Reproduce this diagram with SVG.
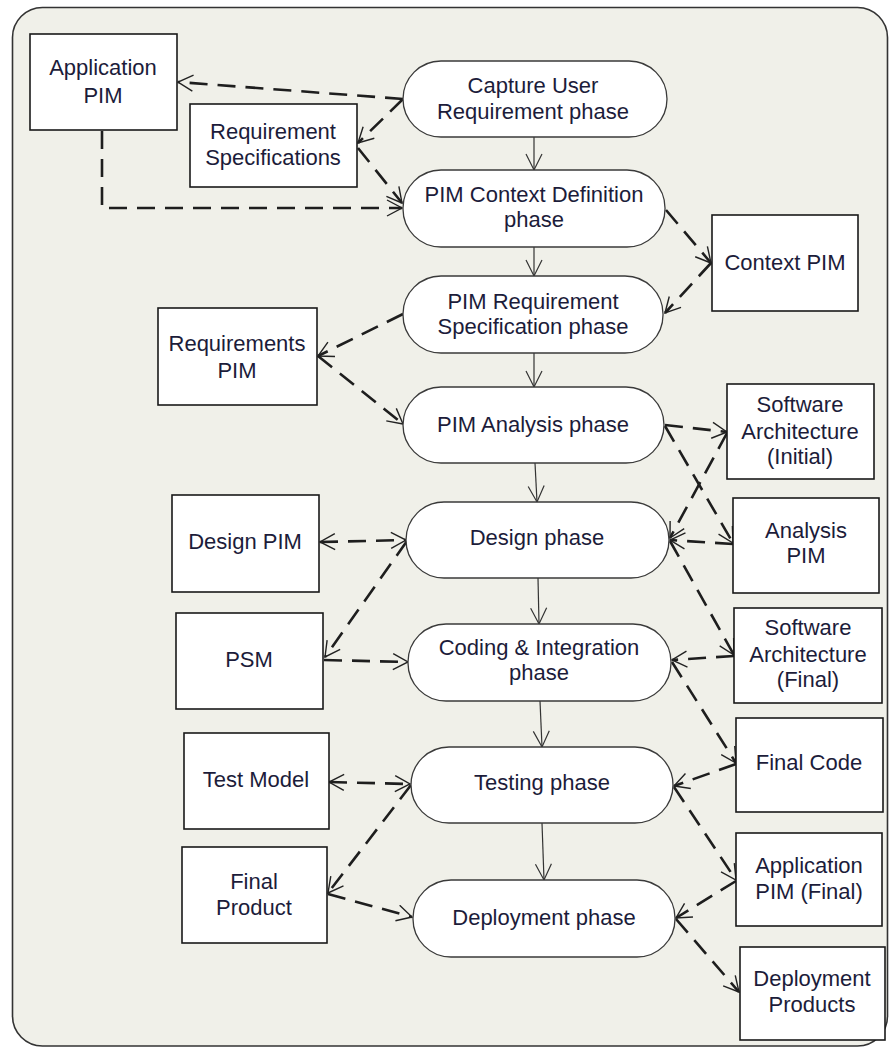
<svg xmlns="http://www.w3.org/2000/svg" width="890" height="1048" viewBox="0 0 890 1048">
<defs>
<style>
.frame{fill:#f0f0e9;stroke:#333;stroke-width:1.6}
.ph{fill:#fff;stroke:#3a3a3a;stroke-width:1.3}
.bx{fill:#fff;stroke:#1a1a1a;stroke-width:1.6}
.t{font-family:"Liberation Sans",Arial,sans-serif;font-size:22px;fill:#1c1c3a;text-anchor:middle}
.flow{fill:none;stroke:#333;stroke-width:1.2;marker-end:url(#fa)}
.dash{fill:none;stroke:#1e1e1e;stroke-width:2.6;stroke-dasharray:18 10}
.ae{marker-end:url(#da)}
.as{marker-start:url(#dsa)}
</style>
<marker id="fa" viewBox="-17 -9 19 18" refX="0" refY="0" markerWidth="19" markerHeight="18" markerUnits="userSpaceOnUse" orient="auto">
<path d="M-16 -8 L0 0 L-16 8" fill="none" stroke="#333" stroke-width="1.2"/>
</marker>
<marker id="da" viewBox="-17 -9 19 18" refX="0" refY="0" markerWidth="19" markerHeight="18" markerUnits="userSpaceOnUse" orient="auto">
<path d="M-15 -8 L0 0 L-15 8" fill="none" stroke="#222" stroke-width="1.4" stroke-dasharray="none"/>
</marker>
<marker id="dsa" viewBox="-2 -9 19 18" refX="0" refY="0" markerWidth="19" markerHeight="18" markerUnits="userSpaceOnUse" orient="auto">
<path d="M15 -8 L0 0 L15 8" fill="none" stroke="#222" stroke-width="1.4" stroke-dasharray="none"/>
</marker>
</defs>
<rect class="frame" x="12.5" y="7.5" width="875" height="1038.5" rx="30"/>

<g id="connectors">
<line class="flow" x1="534" y1="137" x2="534" y2="170"/>
<line class="flow" x1="534" y1="247" x2="534" y2="276"/>
<line class="flow" x1="534" y1="353" x2="534" y2="387"/>
<line class="flow" x1="535" y1="463" x2="537" y2="502"/>
<line class="flow" x1="538" y1="578" x2="539" y2="624"/>
<line class="flow" x1="540" y1="701" x2="542" y2="747"/>
<line class="flow" x1="542" y1="823" x2="544" y2="880"/>

<line class="dash ae" x1="403" y1="99" x2="178" y2="82"/>
<line class="dash ae" x1="403" y1="99" x2="358" y2="143"/>
<line class="dash ae" x1="358" y1="148" x2="402" y2="203"/>
<polyline class="dash ae" points="102,131 102,208 402,208"/>
<line class="dash ae" x1="666" y1="210" x2="711" y2="263"/>
<line class="dash ae" x1="711" y1="263" x2="665" y2="313"/>
<line class="dash ae" x1="403" y1="314" x2="318" y2="356"/>
<line class="dash ae" x1="318" y1="356" x2="403" y2="424"/>
<line class="dash ae" x1="665" y1="425" x2="727" y2="432"/>
<line class="dash ae" x1="665" y1="426" x2="733" y2="543"/>
<line class="dash ae" x1="727" y1="433" x2="670" y2="538"/>
<line class="dash ae" x1="733" y1="544" x2="670" y2="540"/>
<line class="dash ae" x1="670" y1="541" x2="734" y2="655"/>
<line class="dash ae" x1="734" y1="656" x2="672" y2="660"/>
<line class="dash ae" x1="672" y1="662" x2="736" y2="763"/>
<line class="dash ae" x1="736" y1="764" x2="674" y2="786"/>
<line class="dash ae" x1="674" y1="787" x2="736" y2="880"/>
<line class="dash ae" x1="736" y1="881" x2="676" y2="918"/>
<line class="dash ae" x1="676" y1="919" x2="739" y2="992"/>

<line class="dash ae as" x1="320" y1="542" x2="406" y2="540"/>
<line class="dash ae" x1="407" y1="541" x2="325" y2="657"/>
<line class="dash ae" x1="324" y1="660" x2="408" y2="662"/>
<line class="dash ae as" x1="329" y1="782" x2="410" y2="784"/>
<line class="dash ae" x1="411" y1="785" x2="328" y2="893"/>
<line class="dash ae" x1="328" y1="894" x2="412" y2="917"/>
</g>

<g id="capture"><rect class="ph" x="403" y="61" width="264" height="76" rx="38"/><text class="t" x="533" y="93">Capture User</text><text class="t" x="533" y="119">Requirement phase</text></g>
<g id="context-def"><rect class="ph" x="403" y="170" width="262" height="77" rx="38"/><text class="t" x="534" y="202">PIM Context Definition</text><text class="t" x="534" y="227">phase</text></g>
<g id="req-spec-phase"><rect class="ph" x="403" y="276" width="260" height="77" rx="38"/><text class="t" x="533" y="309">PIM Requirement</text><text class="t" x="533" y="334">Specification phase</text></g>
<g id="analysis-phase"><rect class="ph" x="403" y="387" width="261" height="76" rx="38"/><text class="t" x="533" y="432">PIM Analysis phase</text></g>
<g id="design-phase"><rect class="ph" x="406" y="502" width="263" height="76" rx="38"/><text class="t" x="537" y="545">Design phase</text></g>
<g id="coding-phase"><rect class="ph" x="408" y="624" width="263" height="77" rx="38"/><text class="t" x="539" y="655">Coding &amp; Integration</text><text class="t" x="539" y="680">phase</text></g>
<g id="testing-phase"><rect class="ph" x="411" y="747" width="262" height="76" rx="38"/><text class="t" x="542" y="790">Testing phase</text></g>
<g id="deployment-phase"><rect class="ph" x="413" y="880" width="262" height="77" rx="38"/><text class="t" x="544" y="925">Deployment phase</text></g>

<g id="app-pim"><rect class="bx" x="30" y="34" width="147" height="96"/><text class="t" x="103" y="75">Application</text><text class="t" x="103" y="103">PIM</text></g>
<g id="req-specs"><rect class="bx" x="190" y="104" width="167" height="83"/><text class="t" x="273" y="139">Requirement</text><text class="t" x="273" y="165">Specifications</text></g>
<g id="context-pim"><rect class="bx" x="712" y="215" width="146" height="96"/><text class="t" x="785" y="270">Context PIM</text></g>
<g id="requirements-pim"><rect class="bx" x="158" y="308" width="159" height="97"/><text class="t" x="237" y="351">Requirements</text><text class="t" x="237" y="378">PIM</text></g>
<g id="design-pim"><rect class="bx" x="172" y="495" width="147" height="97"/><text class="t" x="245" y="549">Design PIM</text></g>
<g id="psm"><rect class="bx" x="176" y="613" width="147" height="96"/><text class="t" x="249" y="667">PSM</text></g>
<g id="test-model"><rect class="bx" x="184" y="733" width="145" height="96"/><text class="t" x="256" y="787">Test Model</text></g>
<g id="final-product"><rect class="bx" x="182" y="847" width="145" height="96"/><text class="t" x="254" y="889">Final</text><text class="t" x="254" y="915">Product</text></g>
<g id="sa-initial"><rect class="bx" x="727" y="384" width="147" height="95"/><text class="t" x="800" y="412">Software</text><text class="t" x="800" y="439">Architecture</text><text class="t" x="800" y="464">(Initial)</text></g>
<g id="analysis-pim"><rect class="bx" x="733" y="498" width="146" height="95"/><text class="t" x="806" y="538">Analysis</text><text class="t" x="806" y="563">PIM</text></g>
<g id="sa-final"><rect class="bx" x="734" y="608" width="148" height="95"/><text class="t" x="808" y="635">Software</text><text class="t" x="808" y="662">Architecture</text><text class="t" x="808" y="687">(Final)</text></g>
<g id="final-code"><rect class="bx" x="736" y="718" width="147" height="94"/><text class="t" x="809" y="770">Final Code</text></g>
<g id="app-pim-final"><rect class="bx" x="736" y="833" width="146" height="93"/><text class="t" x="809" y="873">Application</text><text class="t" x="809" y="899">PIM (Final)</text></g>
<g id="deploy-products"><rect class="bx" x="740" y="947" width="145" height="93"/><text class="t" x="812" y="986">Deployment</text><text class="t" x="812" y="1012">Products</text></g>
</svg>
